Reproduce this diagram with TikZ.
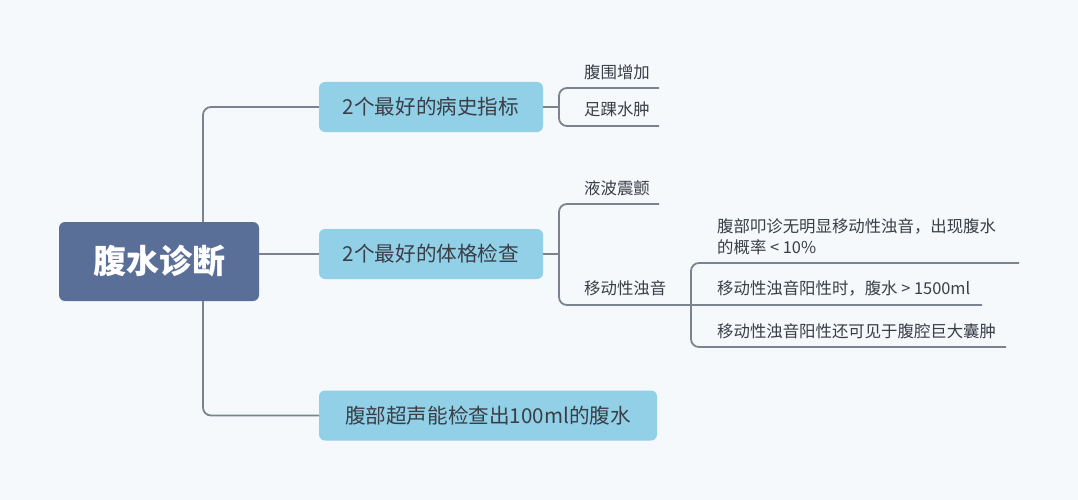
\documentclass[tikz,border=0pt]{standalone}
\usepackage{fontspec}
\setmainfont{Noto Sans CJK SC}
\definecolor{bgc}{RGB}{245,249,252}
\definecolor{rootc}{RGB}{90,111,152}
\definecolor{topicc}{RGB}{145,208,230}
\definecolor{linec}{RGB}{124,131,142}
\definecolor{textc}{RGB}{58,62,70}
\begin{document}
\begin{tikzpicture}[x=1pt,y=-1pt,
	link/.style={draw=linec,line width=1.8pt,rounded corners=8pt},
	rootbox/.style={fill=rootc,rounded corners=6pt,minimum width=200pt,minimum height=79pt,inner sep=0pt,text=white,font=\fontsize{33}{40}\selectfont\bfseries},
	topic/.style={fill=topicc,rounded corners=6pt,minimum width=224pt,minimum height=50pt,inner sep=0pt,text=textc,font=\fontsize{20.6}{24}\selectfont},
	leaf/.style={anchor=west,inner sep=0pt,align=left,text=textc,font=\fontsize{16.4}{21}\selectfont}]
			\fill[bgc] (0,0) rectangle (1078,500);
			\useasboundingbox (0,0) rectangle (1078,500);
			
			\node[rootbox] (root) at (159,261.5) {腹水诊断};
			\node[topic] (hist) at (431,107) {2个最好的病史指标};
			\node[topic] (exam) at (431,254) {2个最好的体格检查};
			\node[topic,minimum width=338pt] (echo) at (488,415.5) {腹部超声能检查出100ml的腹水};
			
			\foreach \n/\y/\t in {girth/72/腹围增加, edema/109/足踝水肿, wave/188/液波震颤, dull/288/移动性浊音}
			{
				\node[leaf] (\n) at (584,\y) {\t};
			}
			\foreach \n/\y/\t in {dulla/236.5/{腹部叩诊无明显移动性浊音，出现腹水\\的概率 < 10\%}, dullb/288/{移动性浊音阳性时，腹水 > 1500ml}, dullc/331/{移动性浊音阳性还可见于腹腔巨大囊肿}}
			{
				\node[leaf] (\n) at (717,\y) {\t};
			}
			
			\coordinate (trunk) at (203,0);
			\coordinate (hist-k) at (559,107);
			\coordinate (exam-k) at (559,254);
			\coordinate (dull-k) at (691,305);
			\coordinate (girth-e) at (659,88);
			\coordinate (edema-e) at (659,126);
			\coordinate (wave-e) at (659,204);
			\coordinate (dulla-e) at (1019,263);
			\coordinate (dullb-e) at (982,305);
			\coordinate (dullc-e) at (1006,347);
			
			\draw[link] (root.north -| trunk) |- (hist.west);
			\draw[link] (root.south -| trunk) |- (echo.west);
			\draw[link] (root.east |- exam.west) -- (exam.west);
			
			\draw[link] (hist.east) -- (hist-k);
			\draw[link] (girth-e) -| (hist-k) |- (edema-e);
			\draw[link] (exam.east) -- (exam-k);
			\draw[link] (wave-e) -| (exam-k) |- (dull-k) -- (dullb-e);
			\draw[link] (dulla-e) -| (dull-k) |- (dullc-e);
			
		\end{tikzpicture}
\end{document}
